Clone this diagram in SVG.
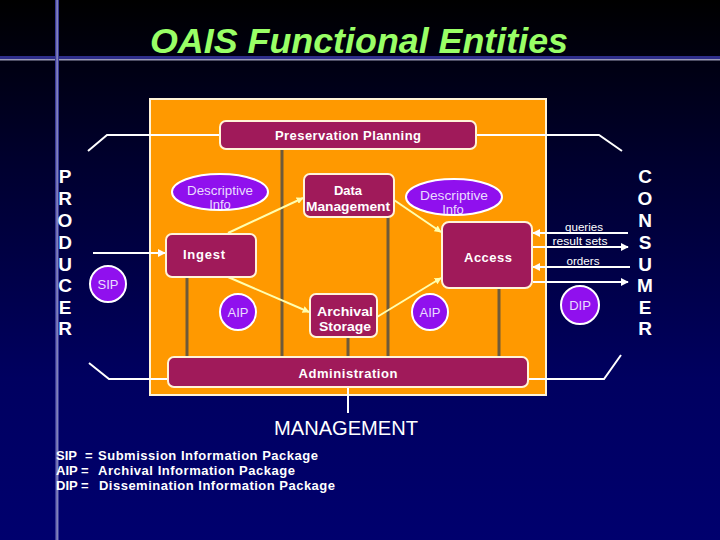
<svg xmlns="http://www.w3.org/2000/svg" width="720" height="540" viewBox="0 0 720 540">
<defs>
<linearGradient id="bg" x1="0" y1="0" x2="0" y2="1">
<stop offset="0" stop-color="#000000"/>
<stop offset="0.3" stop-color="#00002e"/>
<stop offset="0.7" stop-color="#000060"/>
<stop offset="1" stop-color="#00006e"/>
</linearGradient>
<marker id="ay" viewBox="0 0 10 10" refX="9" refY="5" markerWidth="7" markerHeight="7" orient="auto-start-reverse" markerUnits="userSpaceOnUse">
<path d="M0,0 L10,5 L0,10 z" fill="#ffffb0"/>
</marker>
<marker id="awb" viewBox="0 0 10 10" refX="9" refY="5" markerWidth="8" markerHeight="8" orient="auto-start-reverse" markerUnits="userSpaceOnUse">
<path d="M0,0 L10,5 L0,10 z" fill="#ffffff"/>
</marker>
</defs>
<style>
.box{fill:#a01a5a;stroke:#fff4d8;stroke-width:2}
.ell{fill:#9010ee;stroke:#ffffff;stroke-width:2}
.bt{font-family:"Liberation Sans",Arial,sans-serif;font-weight:bold;font-size:13px;fill:#ffffff}
.et{font-family:"Liberation Sans",Arial,sans-serif;font-size:13px;fill:#eadcff}
.side{font-family:"Liberation Sans",Arial,sans-serif;font-weight:bold;font-size:19px;fill:#ffffff;text-anchor:middle}
.lab{font-family:"Liberation Sans",Arial,sans-serif;font-size:11px;fill:#ffffff}
.leg{font-family:"Liberation Sans",Arial,sans-serif;font-weight:bold;font-size:13px;fill:#ffffff}
.brown{stroke:#6e5a3a;stroke-width:3;fill:none}
.yel{stroke:#ffffb0;stroke-width:2;fill:none;marker-end:url(#ay)}
.wl{stroke:#ffffff;stroke-width:2;fill:none}
.wa{stroke:#ffffff;stroke-width:2;fill:none;marker-end:url(#awb)}
</style>
<rect width="720" height="540" fill="url(#bg)"/>
<g id="frame">
<rect x="0" y="56" width="720" height="3" fill="#2e2e8c"/>
<rect x="0" y="59" width="720" height="1.5" fill="#9a9ab8"/>
<rect x="55" y="0" width="4" height="540" fill="#3a3a9a"/>
<rect x="56.5" y="0" width="1.2" height="540" fill="#a0a0c8"/>
</g>
<text x="359" y="53" font-family="'Liberation Sans',Arial,sans-serif" font-size="35" font-weight="bold" font-style="italic" fill="#99ff66" text-anchor="middle" textLength="418" lengthAdjust="spacingAndGlyphs">OAIS Functional Entities</text>
<g id="archive">
<rect x="150" y="99" width="396" height="296" fill="#ff9900" stroke="#fff4d8" stroke-width="2"/>
</g>
<g id="connectors">
<path class="wl" d="M88,151 L107,135 L220,135"/>
<path class="wl" d="M476,135 L599,135 L622,151"/>
<path class="wl" d="M89,363 L109,379 L168,379"/>
<path class="wl" d="M528,379 L604,379 L621,355"/>
<path class="wl" d="M348,387 L348,413"/>
<line class="brown" x1="187" y1="277" x2="187" y2="357"/>
<line class="brown" x1="282" y1="149" x2="282" y2="357"/>
<line class="brown" x1="348" y1="337" x2="348" y2="357"/>
<line class="brown" x1="388" y1="217" x2="388" y2="357"/>
<line class="brown" x1="499" y1="288" x2="499" y2="357"/>
<line class="yel" x1="228" y1="233" x2="303" y2="198"/>
<line class="yel" x1="394" y1="200" x2="441" y2="232"/>
<line class="yel" x1="228" y1="277" x2="309" y2="312"/>
<line class="yel" x1="377" y1="317" x2="441" y2="278"/>
<line class="wa" x1="93" y1="253" x2="165" y2="253"/>
<line class="wa" x1="628" y1="233" x2="533" y2="233"/>
<line class="wa" x1="533" y1="247" x2="628" y2="247"/>
<line class="wa" x1="630" y1="267" x2="533" y2="267"/>
<line class="wa" x1="533" y1="282" x2="628" y2="282"/>
<text class="lab" x="584" y="231" text-anchor="middle" textLength="38" lengthAdjust="spacingAndGlyphs">queries</text>
<text class="lab" x="580" y="245" text-anchor="middle" textLength="55" lengthAdjust="spacingAndGlyphs">result sets</text>
<text class="lab" x="583" y="265" text-anchor="middle" textLength="33" lengthAdjust="spacingAndGlyphs">orders</text>
</g>
<g id="preservation-planning">
<rect class="box" x="220" y="121" width="256" height="28" rx="6"/>
<text class="bt" x="348" y="140" text-anchor="middle" textLength="146" lengthAdjust="spacing">Preservation Planning</text>
</g>
<g id="data-management">
<rect class="box" x="304" y="174" width="90" height="43" rx="6"/>
<text class="bt" x="348" y="195" text-anchor="middle">Data</text>
<text class="bt" x="348" y="211" text-anchor="middle" textLength="84" lengthAdjust="spacingAndGlyphs">Management</text>
</g>
<g id="ingest">
<rect class="box" x="166" y="234" width="90" height="43" rx="6"/>
<text class="bt" x="183" y="259" textLength="42" lengthAdjust="spacing">Ingest</text>
</g>
<g id="access">
<rect class="box" x="442" y="222" width="90" height="66" rx="7"/>
<text class="bt" x="464" y="262" textLength="48" lengthAdjust="spacing">Access</text>
</g>
<g id="archival-storage">
<rect class="box" x="310" y="294" width="67" height="43" rx="6"/>
<text class="bt" x="345" y="316" text-anchor="middle" textLength="56" lengthAdjust="spacingAndGlyphs">Archival</text>
<text class="bt" x="345" y="331" text-anchor="middle" textLength="52" lengthAdjust="spacingAndGlyphs">Storage</text>
</g>
<g id="administration">
<rect class="box" x="168" y="357" width="360" height="30" rx="6"/>
<text class="bt" x="348" y="378" text-anchor="middle" textLength="99" lengthAdjust="spacing">Administration</text>
</g>
<g id="descriptive-info-1">
<ellipse class="ell" cx="220" cy="192" rx="48" ry="18"/>
<text class="et" x="220" y="195" text-anchor="middle" textLength="66" lengthAdjust="spacingAndGlyphs">Descriptive</text>
<text class="et" x="220" y="209" text-anchor="middle">Info</text>
</g>
<g id="descriptive-info-2">
<ellipse class="ell" cx="454" cy="197" rx="48" ry="18"/>
<text class="et" x="454" y="200" text-anchor="middle" textLength="68" lengthAdjust="spacingAndGlyphs">Descriptive</text>
<text class="et" x="453" y="214" text-anchor="middle">Info</text>
</g>
<g id="aip-1">
<circle class="ell" cx="238" cy="312" r="18"/>
<text class="et" x="238" y="317" text-anchor="middle">AIP</text>
</g>
<g id="aip-2">
<circle class="ell" cx="430" cy="312" r="18"/>
<text class="et" x="430" y="317" text-anchor="middle">AIP</text>
</g>
<g id="sip">
<circle class="ell" cx="108" cy="284" r="18"/>
<text class="et" x="108" y="289" text-anchor="middle">SIP</text>
</g>
<g id="dip">
<circle class="ell" cx="580" cy="305" r="19"/>
<text class="et" x="580" y="310" text-anchor="middle">DIP</text>
</g>
<g id="producer">
<text class="side" x="65" y="183">P</text>
<text class="side" x="65" y="205">R</text>
<text class="side" x="65" y="227">O</text>
<text class="side" x="65" y="249">D</text>
<text class="side" x="65" y="271">U</text>
<text class="side" x="65" y="292">C</text>
<text class="side" x="65" y="314">E</text>
<text class="side" x="65" y="335">R</text>
</g>
<g id="consumer">
<text class="side" x="645" y="183">C</text>
<text class="side" x="645" y="205">O</text>
<text class="side" x="645" y="227">N</text>
<text class="side" x="645" y="249">S</text>
<text class="side" x="645" y="271">U</text>
<text class="side" x="645" y="292">M</text>
<text class="side" x="645" y="314">E</text>
<text class="side" x="645" y="335">R</text>
</g>
<g id="management">
<text x="346" y="435" font-family="'Liberation Sans',Arial,sans-serif" font-size="20" fill="#ffffff" text-anchor="middle" textLength="144" lengthAdjust="spacingAndGlyphs">MANAGEMENT</text>
</g>
<g id="legend">
<text class="leg" x="56" y="460">SIP</text>
<text class="leg" x="85" y="460">=</text>
<text class="leg" x="98" y="460" textLength="220" lengthAdjust="spacing">Submission Information Package</text>
<text class="leg" x="56" y="475">AIP =</text>
<text class="leg" x="98" y="475" textLength="197" lengthAdjust="spacing">Archival Information Package</text>
<text class="leg" x="56" y="490">DIP =</text>
<text class="leg" x="99" y="490" textLength="236" lengthAdjust="spacing">Dissemination Information Package</text>
</g>
</svg>
